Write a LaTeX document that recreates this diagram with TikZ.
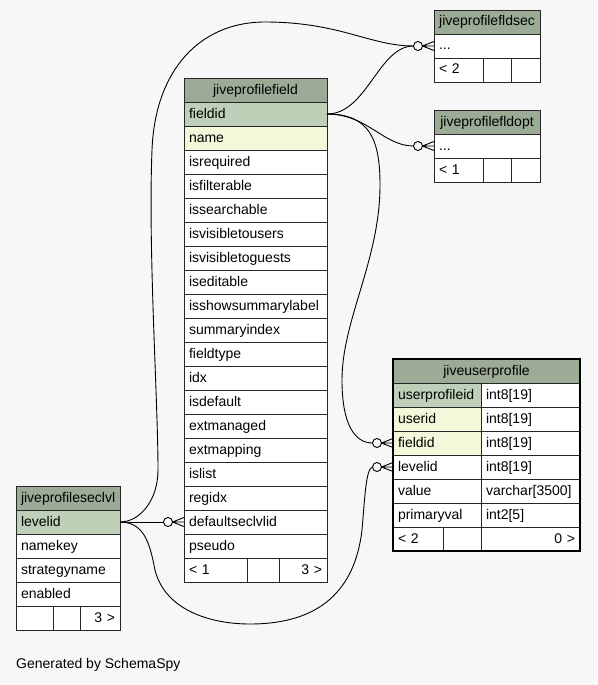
\documentclass[tikz,border=0pt]{standalone}
\usepackage{fontspec}
\setmainfont{Liberation Sans}
\usepackage{xcolor}
\definecolor{hdrgreen}{HTML}{9BAB96}
\definecolor{keygreen}{HTML}{BED1B8}
\definecolor{idxyellow}{HTML}{F4F7DA}
\definecolor{bggray}{HTML}{F7F7F7}
\usepackage{tikz}
\usetikzlibrary{positioning}

\begin{document}
\begin{tikzpicture}[
  x=1pt, y=-1pt,
  font=\fontsize{14pt}{16pt}\selectfont,
  tbl/.style={draw=black!85, line width=0.8pt, inner xsep=5pt, inner ysep=0pt, outer sep=0pt,
              minimum height=24pt, text height=10.5pt, text depth=2.5pt, anchor=north west},
  hdr/.style={tbl, fill=hdrgreen, text width=#1, align=center},
  col/.style={tbl, fill=white, text width=#1, align=left},
  pk/.style={col=#1, fill=keygreen},
  idx/.style={col=#1, fill=idxyellow},
  num/.style={col=#1, align=right},
  rel/.style={line width=0.9pt},
  crowodot/.pic={
    \draw[rel] (-16pt,0pt) circle (4.5pt);
    \draw[rel] (-11.5pt,0pt) -- (0pt,4.5pt) (-11.5pt,0pt) -- (0pt,0pt) (-11.5pt,0pt) -- (0pt,-4.5pt);
  }
]
  \fill[bggray] (0,0) rectangle (597,685);
  \useasboundingbox (0,0) rectangle (597,685);

  \node[hdr=96pt] (fsec) at (434,10) {jiveprofilefldsec};
  \node[col=96pt, below=0pt of fsec] (fsec-dots) {...};
  \node[col=39pt] (fsec-f1) at (fsec-dots.south west) {<~2};
  \node[col=18pt, right=0pt of fsec-f1] (fsec-f2) {};
  \node[col=19pt, right=0pt of fsec-f2] (fsec-f3) {};

  \node[hdr=96pt] (fopt) at (434,110) {jiveprofilefldopt};
  \node[col=96pt, below=0pt of fopt] (fopt-dots) {...};
  \node[col=39pt] (fopt-f1) at (fopt-dots.south west) {<~1};
  \node[col=18pt, right=0pt of fopt-f1] (fopt-f2) {};
  \node[col=19pt, right=0pt of fopt-f2] (fopt-f3) {};

  \node[hdr=133pt] (fld) at (184,78) {jiveprofilefield};
  \node[pk=133pt, below=0pt of fld] (fld-fieldid) {fieldid};
  \node[idx=133pt, below=0pt of fld-fieldid] (fld-name) {name};
  \foreach \c [remember=\c as \p (initially name)] in {isrequired, isfilterable, issearchable,
      isvisibletousers, isvisibletoguests, iseditable, isshowsummarylabel, summaryindex,
      fieldtype, idx, isdefault, extmanaged, extmapping, islist, regidx, defaultseclvlid, pseudo}
    \node[col=133pt, below=0pt of fld-\p] (fld-\c) {\c};
  \node[col=53pt] (fld-f1) at (fld-pseudo.south west) {<~1};
  \node[col=22pt, right=0pt of fld-f1] (fld-f2) {};
  \node[num=38pt, right=0pt of fld-f2] (fld-f3) {3~>};

  \node[hdr=177pt] (up) at (393,359) {jiveuserprofile};
  \node[pk=78pt, below=0pt of up.south west, anchor=north west] (up-userprofileid) {userprofileid};
  \node[idx=78pt, below=0pt of up-userprofileid] (up-userid) {userid};
  \node[idx=78pt, below=0pt of up-userid] (up-fieldid) {fieldid};
  \node[col=78pt, below=0pt of up-fieldid] (up-levelid) {levelid};
  \node[col=78pt, below=0pt of up-levelid] (up-value) {value};
  \node[col=78pt, below=0pt of up-value] (up-primaryval) {primaryval};
  \node[col=89pt, right=0pt of up-userprofileid] (up-t1) {int8[19]};
  \node[col=89pt, right=0pt of up-userid] (up-t2) {int8[19]};
  \node[col=89pt, right=0pt of up-fieldid] (up-t3) {int8[19]};
  \node[col=89pt, right=0pt of up-levelid] (up-t4) {int8[19]};
  \node[col=89pt, right=0pt of up-value] (up-t5) {varchar[3500]};
  \node[col=89pt, right=0pt of up-primaryval] (up-t6) {int2[5]};
  \node[col=40pt] (up-f1) at (up-primaryval.south west) {<~2};
  \node[col=28pt, right=0pt of up-f1] (up-f2) {};
  \node[num=89pt, right=0pt of up-f2] (up-f3) {0~>};
  \draw[line width=2.6pt] (up.north west) rectangle (up-f3.south east);

  \node[hdr=94pt] (sl) at (16,486) {jiveprofileseclvl};
  \node[pk=94pt, below=0pt of sl] (sl-levelid) {levelid};
  \node[col=94pt, below=0pt of sl-levelid] (sl-namekey) {namekey};
  \node[col=94pt, below=0pt of sl-namekey] (sl-strategyname) {strategyname};
  \node[col=94pt, below=0pt of sl-strategyname] (sl-enabled) {enabled};
  \node[col=27pt] (sl-f1) at (sl-enabled.south west) {};
  \node[col=17pt, right=0pt of sl-f1] (sl-f2) {};
  \node[num=30pt, right=0pt of sl-f2] (sl-f3) {3~>};

  \node[anchor=west, inner sep=0pt] (gen) at (16,665) {Generated by SchemaSpy};

  \draw[rel] (fld-fieldid.east) .. controls +(40,0) and +(-35,0) .. ([xshift=-20.5pt]fsec-dots.west);
  \draw[rel] (fld-fieldid.east) .. controls +(40,0) and +(-30,0) .. ([xshift=-20.5pt]fopt-dots.west);
  \draw[rel] (fld-fieldid.east) .. controls (370,114) and (380,140) .. (380,185)
    .. controls (380,260) and (342,320) .. (342,380)
    .. controls (342,425) and (355,443) .. ([xshift=-20.5pt]up-fieldid.west);
  \draw[rel] (sl-levelid.east) -- ([xshift=-20.5pt]fld-defaultseclvlid.west);
  \draw[rel] (sl-levelid.east) .. controls (140,522) and (158,500) .. (158,470)
    .. controls (158,400) and (148,250) .. (152,150)
    .. controls (155,70) and (200,22) .. (265,22)
    .. controls (340,22) and (370,46) .. ([xshift=-20.5pt]fsec-dots.west);
  \draw[rel] (sl-levelid.east) .. controls (145,522) and (150,545) .. (155,570)
    .. controls (165,610) and (210,624) .. (250,624)
    .. controls (320,624) and (355,590) .. (362,530)
    .. controls (365,495) and (366,469) .. ([xshift=-20.5pt]up-levelid.west);

  \pic at (fsec-dots.west) {crowodot};
  \pic at (fopt-dots.west) {crowodot};
  \pic at (up-fieldid.west) {crowodot};
  \pic at (up-levelid.west) {crowodot};
  \pic at (fld-defaultseclvlid.west) {crowodot};
\end{tikzpicture}
\end{document}
